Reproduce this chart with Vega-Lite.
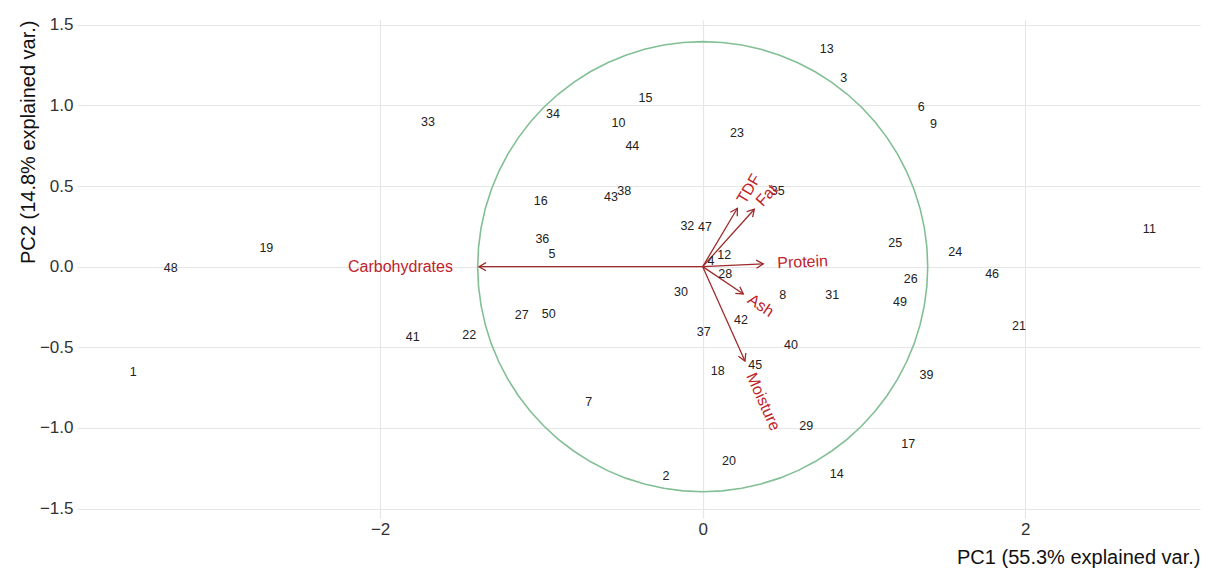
{
  "$schema": "https://vega.github.io/schema/vega-lite/v6.json",
  "width": 1123,
  "height": 498,
  "autosize": "none",
  "padding": {"left": 77, "top": 20, "right": 7, "bottom": 53},
  "background": "white",
  "config": {"view": {"stroke": null}, "font": "Liberation Sans"},
  "datasets": {
    "samples": [
      {"id": "1", "x": -3.530, "y": -0.655},
      {"id": "2", "x": -0.228, "y": -1.299},
      {"id": "3", "x": 0.874, "y": 1.168},
      {"id": "4", "x": 0.051, "y": 0.037},
      {"id": "5", "x": -0.934, "y": 0.077},
      {"id": "6", "x": 1.355, "y": 0.992},
      {"id": "7", "x": -0.707, "y": -0.837},
      {"id": "8", "x": 0.496, "y": -0.175},
      {"id": "9", "x": 1.430, "y": 0.883},
      {"id": "10", "x": -0.522, "y": 0.889},
      {"id": "11", "x": 2.769, "y": 0.234},
      {"id": "12", "x": 0.134, "y": 0.071},
      {"id": "13", "x": 0.769, "y": 1.350},
      {"id": "14", "x": 0.831, "y": -1.283},
      {"id": "15", "x": -0.355, "y": 1.044},
      {"id": "16", "x": -1.004, "y": 0.409},
      {"id": "17", "x": 1.274, "y": -1.099},
      {"id": "18", "x": 0.093, "y": -0.647},
      {"id": "19", "x": -2.705, "y": 0.116},
      {"id": "20", "x": 0.163, "y": -1.203},
      {"id": "21", "x": 1.961, "y": -0.366},
      {"id": "22", "x": -1.447, "y": -0.423},
      {"id": "23", "x": 0.213, "y": 0.827},
      {"id": "24", "x": 1.566, "y": 0.089},
      {"id": "25", "x": 1.194, "y": 0.145},
      {"id": "26", "x": 1.290, "y": -0.076},
      {"id": "27", "x": -1.122, "y": -0.299},
      {"id": "28", "x": 0.140, "y": -0.045},
      {"id": "29", "x": 0.642, "y": -0.986},
      {"id": "30", "x": -0.135, "y": -0.155},
      {"id": "31", "x": 0.803, "y": -0.175},
      {"id": "32", "x": -0.095, "y": 0.252},
      {"id": "33", "x": -1.703, "y": 0.895},
      {"id": "34", "x": -0.928, "y": 0.945},
      {"id": "35", "x": 0.465, "y": 0.469},
      {"id": "36", "x": -0.994, "y": 0.172},
      {"id": "37", "x": 0.006, "y": -0.403},
      {"id": "38", "x": -0.486, "y": 0.469},
      {"id": "39", "x": 1.387, "y": -0.670},
      {"id": "40", "x": 0.547, "y": -0.485},
      {"id": "41", "x": -1.798, "y": -0.438},
      {"id": "42", "x": 0.237, "y": -0.329},
      {"id": "43", "x": -0.569, "y": 0.434},
      {"id": "44", "x": -0.436, "y": 0.748},
      {"id": "45", "x": 0.326, "y": -0.608},
      {"id": "46", "x": 1.794, "y": -0.045},
      {"id": "47", "x": 0.014, "y": 0.248},
      {"id": "48", "x": -3.298, "y": -0.006},
      {"id": "49", "x": 1.223, "y": -0.217},
      {"id": "50", "x": -0.955, "y": -0.295}
    ],
    "loadings": [
      {"name": "Carbohydrates", "x": -1.387, "y": 0.0},
      {"name": "Protein", "x": 0.376, "y": 0.017},
      {"name": "TDF", "x": 0.215, "y": 0.362},
      {"name": "Fat", "x": 0.320, "y": 0.356},
      {"name": "Ash", "x": 0.252, "y": -0.169},
      {"name": "Moisture", "x": 0.262, "y": -0.585}
    ],
    "circle": [
      {"i": 0, "x": 1.395, "y": 0},
      {"i": 1, "x": 1.3897, "y": 0.1216},
      {"i": 2, "x": 1.3738, "y": 0.2422},
      {"i": 3, "x": 1.3475, "y": 0.3611},
      {"i": 4, "x": 1.3109, "y": 0.4771},
      {"i": 5, "x": 1.2643, "y": 0.5896},
      {"i": 6, "x": 1.2081, "y": 0.6975},
      {"i": 7, "x": 1.1427, "y": 0.8001},
      {"i": 8, "x": 1.0686, "y": 0.8967},
      {"i": 9, "x": 0.9864, "y": 0.9864},
      {"i": 10, "x": 0.8967, "y": 1.0686},
      {"i": 11, "x": 0.8001, "y": 1.1427},
      {"i": 12, "x": 0.6975, "y": 1.2081},
      {"i": 13, "x": 0.5896, "y": 1.2643},
      {"i": 14, "x": 0.4771, "y": 1.3109},
      {"i": 15, "x": 0.3611, "y": 1.3475},
      {"i": 16, "x": 0.2422, "y": 1.3738},
      {"i": 17, "x": 0.1216, "y": 1.3897},
      {"i": 18, "x": 0, "y": 1.395},
      {"i": 19, "x": -0.1216, "y": 1.3897},
      {"i": 20, "x": -0.2422, "y": 1.3738},
      {"i": 21, "x": -0.3611, "y": 1.3475},
      {"i": 22, "x": -0.4771, "y": 1.3109},
      {"i": 23, "x": -0.5896, "y": 1.2643},
      {"i": 24, "x": -0.6975, "y": 1.2081},
      {"i": 25, "x": -0.8001, "y": 1.1427},
      {"i": 26, "x": -0.8967, "y": 1.0686},
      {"i": 27, "x": -0.9864, "y": 0.9864},
      {"i": 28, "x": -1.0686, "y": 0.8967},
      {"i": 29, "x": -1.1427, "y": 0.8001},
      {"i": 30, "x": -1.2081, "y": 0.6975},
      {"i": 31, "x": -1.2643, "y": 0.5896},
      {"i": 32, "x": -1.3109, "y": 0.4771},
      {"i": 33, "x": -1.3475, "y": 0.3611},
      {"i": 34, "x": -1.3738, "y": 0.2422},
      {"i": 35, "x": -1.3897, "y": 0.1216},
      {"i": 36, "x": -1.395, "y": 0},
      {"i": 37, "x": -1.3897, "y": -0.1216},
      {"i": 38, "x": -1.3738, "y": -0.2422},
      {"i": 39, "x": -1.3475, "y": -0.3611},
      {"i": 40, "x": -1.3109, "y": -0.4771},
      {"i": 41, "x": -1.2643, "y": -0.5896},
      {"i": 42, "x": -1.2081, "y": -0.6975},
      {"i": 43, "x": -1.1427, "y": -0.8001},
      {"i": 44, "x": -1.0686, "y": -0.8967},
      {"i": 45, "x": -0.9864, "y": -0.9864},
      {"i": 46, "x": -0.8967, "y": -1.0686},
      {"i": 47, "x": -0.8001, "y": -1.1427},
      {"i": 48, "x": -0.6975, "y": -1.2081},
      {"i": 49, "x": -0.5896, "y": -1.2643},
      {"i": 50, "x": -0.4771, "y": -1.3109},
      {"i": 51, "x": -0.3611, "y": -1.3475},
      {"i": 52, "x": -0.2422, "y": -1.3738},
      {"i": 53, "x": -0.1216, "y": -1.3897},
      {"i": 54, "x": 0, "y": -1.395},
      {"i": 55, "x": 0.1216, "y": -1.3897},
      {"i": 56, "x": 0.2422, "y": -1.3738},
      {"i": 57, "x": 0.3611, "y": -1.3475},
      {"i": 58, "x": 0.4771, "y": -1.3109},
      {"i": 59, "x": 0.5896, "y": -1.2643},
      {"i": 60, "x": 0.6975, "y": -1.2081},
      {"i": 61, "x": 0.8001, "y": -1.1427},
      {"i": 62, "x": 0.8967, "y": -1.0686},
      {"i": 63, "x": 0.9864, "y": -0.9864},
      {"i": 64, "x": 1.0686, "y": -0.8967},
      {"i": 65, "x": 1.1427, "y": -0.8001},
      {"i": 66, "x": 1.2081, "y": -0.6975},
      {"i": 67, "x": 1.2643, "y": -0.5896},
      {"i": 68, "x": 1.3109, "y": -0.4771},
      {"i": 69, "x": 1.3475, "y": -0.3611},
      {"i": 70, "x": 1.3738, "y": -0.2422},
      {"i": 71, "x": 1.3897, "y": -0.1216},
      {"i": 72, "x": 1.395, "y": 0}
    ]
  },
  "encoding": {
    "x": {
      "field": "x",
      "type": "quantitative",
      "scale": {"domain": [-3.879, 3.083], "nice": false, "zero": false},
      "axis": {
        "values": [-2, 0, 2],
        "format": "d",
        "title": "PC1 (55.3% explained var.)",
        "titleAnchor": "end",
        "titleFontSize": 20,
        "titleFontWeight": "normal",
        "titleColor": "#111111",
        "titlePadding": 10,
        "labelFontSize": 17,
        "labelColor": "#333333",
        "labelPadding": 3,
        "grid": true,
        "gridColor": "#e6e6e6",
        "gridWidth": 1.2,
        "domain": false,
        "ticks": false
      }
    },
    "y": {
      "field": "y",
      "type": "quantitative",
      "scale": {"domain": [-1.558, 1.529], "nice": false, "zero": false},
      "axis": {
        "values": [-1.5, -1, -0.5, 0, 0.5, 1, 1.5],
        "format": ".1f",
        "title": "PC2 (14.8% explained var.)",
        "titleAnchor": "end",
        "titleFontSize": 20,
        "titleFontWeight": "normal",
        "titleColor": "#111111",
        "titlePadding": 1,
        "labelFontSize": 17,
        "labelColor": "#333333",
        "labelPadding": 4,
        "grid": true,
        "gridColor": "#e6e6e6",
        "gridWidth": 1.2,
        "domain": false,
        "ticks": false
      }
    }
  },
  "layer": [
    {
      "data": {"name": "circle"},
      "mark": {"type": "line", "color": "#82bf94", "strokeWidth": 1.6},
      "encoding": {"order": {"field": "i", "type": "quantitative"}}
    },
    {
      "data": {"name": "loadings"},
      "mark": {"type": "rule", "color": "#9e2b2b", "strokeWidth": 1.3},
      "encoding": {"x2": {"datum": 0}, "y2": {"datum": 0}}
    },
    {
      "data": {"name": "loadings"},
      "transform": [{"calculate": "-atan2(datum.y, datum.x) * 180 / PI", "as": "head"}],
      "mark": {"type": "point", "shape": "M-1,-0.577L0,0L-1,0.577", "filled": false, "size": 196, "color": "#9e2b2b", "strokeWidth": 1.3, "opacity": 1},
      "encoding": {"angle": {"field": "head", "type": "quantitative", "scale": null}}
    },
    {
      "data": {"name": "samples"},
      "mark": {"type": "text", "fontSize": 12.5, "baseline": "middle", "align": "center", "color": "#222222"},
      "encoding": {"text": {"field": "id", "type": "nominal"}}
    },
    {
      "data": {"name": "loadings"},
      "transform": [{"filter": "datum.name == 'Carbohydrates'"}],
      "mark": {"type": "text", "fontSize": 16, "baseline": "middle", "align": "right", "dx": -26, "color": "#c0222a"},
      "encoding": {"text": {"field": "name", "type": "nominal"}}
    },
    {
      "data": {"name": "loadings"},
      "transform": [
        {"filter": "datum.name == 'Protein' || datum.name == 'Moisture'"},
        {"calculate": "-atan(datum.y / datum.x) * 180 / PI", "as": "ang"}
      ],
      "mark": {"type": "text", "fontSize": 16, "baseline": "middle", "align": "left", "dx": 14, "color": "#c0222a"},
      "encoding": {"text": {"field": "name", "type": "nominal"}, "angle": {"field": "ang", "type": "quantitative", "scale": null}}
    },
    {
      "data": {"name": "loadings"},
      "transform": [
        {"filter": "datum.name == 'TDF' || datum.name == 'Fat' || datum.name == 'Ash'"},
        {"calculate": "-atan(datum.y / datum.x) * 180 / PI", "as": "ang"}
      ],
      "mark": {"type": "text", "fontSize": 16, "baseline": "middle", "align": "left", "dx": 7, "color": "#c0222a"},
      "encoding": {"text": {"field": "name", "type": "nominal"}, "angle": {"field": "ang", "type": "quantitative", "scale": null}}
    }
  ]
}
